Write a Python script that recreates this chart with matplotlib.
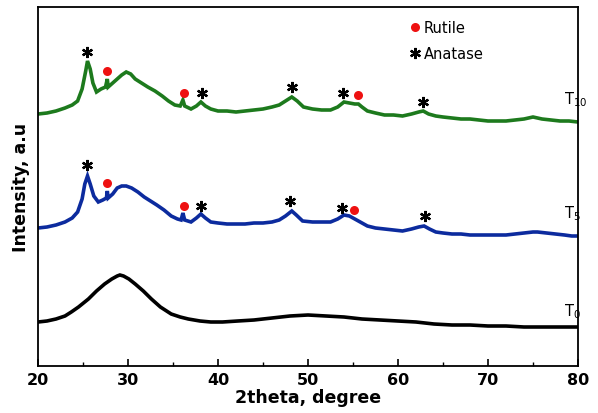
import matplotlib
matplotlib.use("Agg")
import matplotlib.pyplot as plt
from matplotlib.lines import Line2D

# ---- data (2theta, intensity in arbitrary units) ----
t10_points = [(20,252),(21,253),(22,255),(23,258),(23.8,261),(24.4,265),(24.9,277),(25.3,295),(25.5,305),
              (25.8,297),(26.1,283),(26.5,274),(27,277),(27.5,279),(27.7,287),(27.8,279),(28.3,283),(28.8,287),
              (29.3,291),(29.8,294),(30.3,292),(30.8,287),(31.5,283),(32.2,279),(33,275),(33.8,270),(34.5,265),
              (35.2,261),(35.8,260),(36.1,266),(36.3,260),(37,257),(37.6,260),(38.1,264),(38.6,260),(39.2,257),
              (40,255),(41,255),(42,254),(43,255),(44,256),(45,257),(46,259),(46.8,261),(47.5,265),(48.2,269),
              (48.8,265),(49.5,259),(50.5,257),(51.5,256),(52.5,256),(53.3,259),(54,264),(54.6,263),(55.2,262),
              (55.6,262),(56,259),(56.6,255),(57.5,253),(58.5,251),(59.5,251),(60.5,250),(61.5,252),(62.3,254),
              (62.8,255),(63.4,252),(64.2,250),(65,249),(66,248),(67,247),(68,247),(69,246),(70,245),(71,245),
              (72,245),(73,246),(74,247),(75,249),(76,247),(77,246),(78,245),(79,245),(80,244)]

t5_points = [(20,138),(21,139),(22,141),(23,144),(23.8,148),(24.4,154),(24.9,167),(25.2,182),(25.5,190),
             (25.8,182),(26.2,170),(26.7,164),(27.2,166),(27.6,168),(27.7,175),(27.8,168),(28.3,172),(28.8,178),
             (29.3,180),(29.8,180),(30.4,178),(31.1,174),(31.8,169),(32.5,165),(33.2,161),(34,156),(34.8,150),
             (35.5,147),(35.9,146),(36.1,153),(36.3,146),(37,144),(37.6,148),(38.1,152),(38.6,148),(39.2,144),
             (40,143),(41,142),(42,142),(43,142),(44,143),(45,143),(46,144),(46.8,146),(47.5,150),(48.2,155),
             (48.7,151),(49.4,145),(50.5,144),(51.5,144),(52.5,144),(53.3,147),(54,151),(54.6,150),(55.2,147),
             (55.8,144),(56.6,140),(57.5,138),(58.5,137),(59.5,136),(60.5,135),(61.5,137),(62.3,139),(62.9,140),
             (63.5,137),(64.2,134),(65,133),(66,132),(67,132),(68,131),(69,131),(70,131),(71,131),(72,131),
             (73,132),(74,133),(75,134),(75.5,134),(76.5,133),(77.5,132),(78.5,131),(79.3,130),(80,130)]

t0_points = [(20,44),(21,45),(22,47),(23,50),(23.7,54),(24.5,59),(25.6,67),(26.5,75),(27.4,82),(28.2,87),
             (28.8,90),(29.1,91),(29.5,90),(30.1,87),(30.8,82),(31.7,75),(32.6,67),(33.6,59),(34.8,52),(35.8,49),
             (36.7,47),(38,45),(39.2,44),(40.5,44),(42.2,45),(44,46),(46,48),(48,50),(50,51),(52,50),(54,49),
             (56,47),(58,46),(60,45),(62,44),(64,42),(66,41),(68,41),(70,40),(72,40),(74,39),(76,39),(78,39),(80,39)]

anatase_t10 = [(25.45,314),(38.2,273),(48.2,279),(53.9,273),(62.8,264)]
rutile_t10 = [(27.7,295),(36.2,273),(55.6,271)]
anatase_t5 = [(25.45,201),(38.1,160),(48.0,165),(53.8,158),(63.0,150)]
rutile_t5 = [(27.7,183),(36.2,160),(55.1,156)]

series_labels = ["T$_{10}$", "T$_{5}$", "T$_{0}$"]
series_colors = ["#1d7a1d", "#0c2b9e", "#000000"]
label_heights = [258, 144, 46]

xticks = [20, 30, 40, 50, 60, 70, 80]

# ---- figure ----
fig = plt.figure(figsize=(5.98, 4.14), dpi=100)
ax = fig.add_axes([38/598, 1-367/414, 540/598, 359/414])

for pts, col in zip([t10_points, t5_points, t0_points], series_colors):
    xs, ys = zip(*pts)
    ax.plot(xs, ys, color=col, lw=2.6, solid_joinstyle="miter")

ast_kw = dict(marker=(6, 2, 0), color="black", ms=8, mew=1.6, ls="none")
dot_kw = dict(marker="o", color="#ee1111", ms=6.5, mew=0, ls="none")
for pts in [anatase_t10, anatase_t5]:
    xs, ys = zip(*pts)
    ax.plot(xs, ys, **ast_kw)
for pts in [rutile_t10, rutile_t5]:
    xs, ys = zip(*pts)
    ax.plot(xs, ys, **dot_kw)

for lab, h in zip(series_labels, label_heights):
    ax.text(78.5, h, lab, fontsize=10.5, ha="left", va="bottom")

handles = [Line2D([], [], **dot_kw), Line2D([], [], **ast_kw)]
ax.legend(handles, ["Rutile", "Anatase"], loc="upper left", bbox_to_anchor=(0.665, 1.0),
          frameon=False, handlelength=0.6, handletextpad=0.35, labelspacing=0.75, fontsize=10.5,
          borderpad=0.4)

ax.set_xlim(20, 80)
ax.set_ylim(0, 359)
ax.set_xticks(xticks)
ax.set_xticks([25, 35, 45, 55, 65, 75], minor=True)
ax.set_xticklabels([str(t) for t in xticks], fontweight="bold", fontsize=11.5)
ax.tick_params(axis="x", which="major", direction="in", length=5, width=1.2, pad=4)
ax.tick_params(axis="x", which="minor", direction="in", length=3, width=1.0)
ax.set_yticks([])
for sp in ax.spines.values():
    sp.set_linewidth(1.3)

ax.set_xlabel("2theta, degree", fontweight="bold", fontsize=12.5, labelpad=1)
ax.set_ylabel("Intensity, a.u", fontweight="bold", fontsize=12.5, labelpad=6)

fig.savefig("out.png", dpi=100)
